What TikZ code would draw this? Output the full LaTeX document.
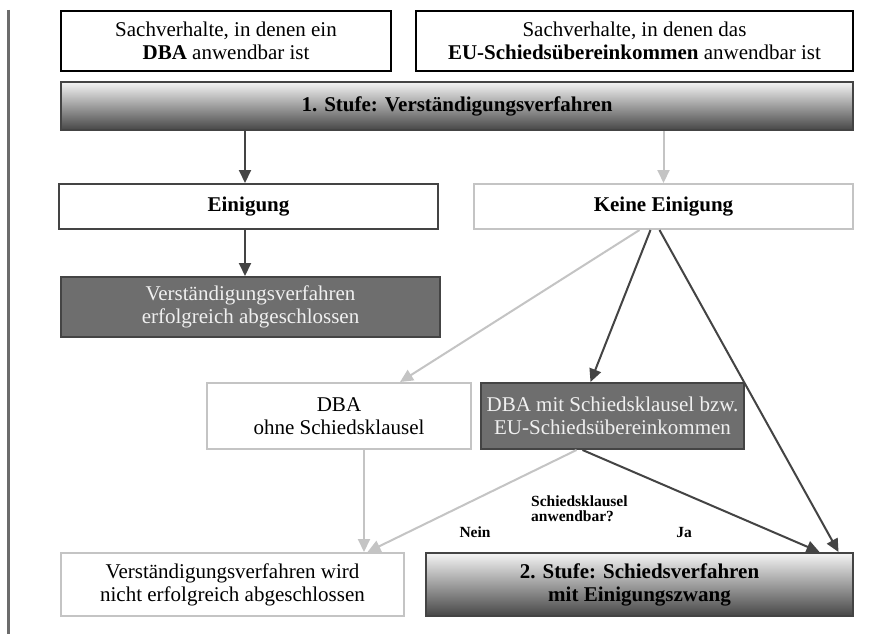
\documentclass[tikz,border=0pt]{standalone}
\usepackage{fontspec}
\setmainfont{Liberation Serif}
\usetikzlibrary{arrows.meta}
\definecolor{darkline}{HTML}{444444}
\definecolor{lightline}{HTML}{C4C4C4}
\definecolor{darkfill}{HTML}{6E6E6E}
\definecolor{gradtop}{HTML}{F4F4F4}
\definecolor{gradbot}{HTML}{474747}
\tikzset{
  basefont/.style={font=\fontsize{21}{23}\selectfont},
  box/.style={draw=black, line width=2pt, fill=white, inner sep=0pt, align=center, basefont},
  lightbox/.style={draw=lightline, line width=2pt, fill=white, inner sep=0pt, align=center, basefont},
  darkbox/.style={draw=darkline, line width=2pt, fill=darkfill, text=white!94!black, inner sep=0pt, align=center, basefont},
  gradbox/.style={draw=darkline, line width=2pt, top color=gradtop, bottom color=gradbot, inner sep=0pt, align=center, font=\fontsize{21}{23}\selectfont\bfseries},
  darkarrow/.style={draw=darkline, line width=2pt, -{Triangle[length=13pt,width=12pt]}},
  lightarrow/.style={draw=lightline, line width=2pt, -{Triangle[length=13pt,width=12pt]}},
  smalllabel/.style={font=\fontsize{15.5}{15}\selectfont\bfseries, inner sep=0pt, align=left}
}
\begin{document}
\begin{tikzpicture}[x=1pt,y=-1pt]
\useasboundingbox[fill=white] (0,0) rectangle (890,634);
\draw[line width=3pt, draw=gray!85!black] (8,10) -- (8,634);
% top boxes
\node[box, minimum width=330pt, minimum height=60pt] (dba) at (226,41) {Sachverhalte, in denen ein\\\textbf{DBA} anwendbar ist};
\node[box, minimum width=437pt, minimum height=60pt] (eu) at (634.5,41) {Sachverhalte, in denen das\\\textbf{EU-Schiedsübereinkommen} anwendbar ist};
\node[gradbox, minimum width=792pt, minimum height=48pt] (st1) at (457,106) {1. Stufe: Verständigungsverfahren};
% second row
\node[box, draw=darkline, font=\fontsize{21}{23}\selectfont\bfseries, minimum width=379pt, minimum height=45pt] (ein) at (248.5,206.5) {Einigung};
\node[lightbox, font=\fontsize{21}{23}\selectfont\bfseries, minimum width=379pt, minimum height=45pt] (kein) at (663.5,206.5) {Keine Einigung};
\node[darkbox, minimum width=379pt, minimum height=60pt] (erf) at (250.5,307) {Verständigungsverfahren\\erfolgreich abgeschlossen};
% third row
\node[lightbox, minimum width=264pt, minimum height=66pt] (ohne) at (339,416) {DBA\\ohne Schiedsklausel};
\node[darkbox, minimum width=263pt, minimum height=66pt] (mit) at (612.5,416) {DBA mit Schiedsklausel bzw.\\EU-Schiedsübereinkommen};
% bottom row
\node[lightbox, minimum width=343pt, minimum height=63pt] (nicht) at (232.5,584.5) {Verständigungsverfahren wird\\nicht erfolgreich abgeschlossen};
\node[gradbox, minimum width=427pt, minimum height=63pt] (st2) at (639.5,584.5) {2. Stufe: Schiedsverfahren\\mit Einigungszwang};
% labels
\node[smalllabel, anchor=north west] (frage) at (531,496) {Schiedsklausel\\anwendbar?};
\node[smalllabel] (nein) at (475,532) {Nein};
\node[smalllabel] (ja) at (684,532) {Ja};
% connectors
\draw[darkarrow] (st1.south -| 245,0) -- (ein.north -| 245,0);
\draw[lightarrow] (st1.south -| kein.north) -- (kein.north);
\draw[darkarrow] (ein.south -| 245,0) -- (erf.north -| 245,0);
\draw[lightarrow] ([xshift=-24pt]kein.south) -- ([xshift=61pt]ohne.north);
\draw[darkarrow] ([xshift=-13pt]kein.south) -- ([xshift=-22pt]mit.north);
\draw[darkarrow] ([xshift=-4pt]kein.south) -- ([xshift=199pt]st2.north);
\draw[lightarrow] (ohne.south -| 364,0) -- (nicht.north -| 364,0);
\draw[lightarrow] ([xshift=-36pt]mit.south) -- ([xshift=135pt]nicht.north);
\draw[darkarrow] ([xshift=-30pt]mit.south) -- ([xshift=180pt]st2.north);
\end{tikzpicture}
\end{document}
